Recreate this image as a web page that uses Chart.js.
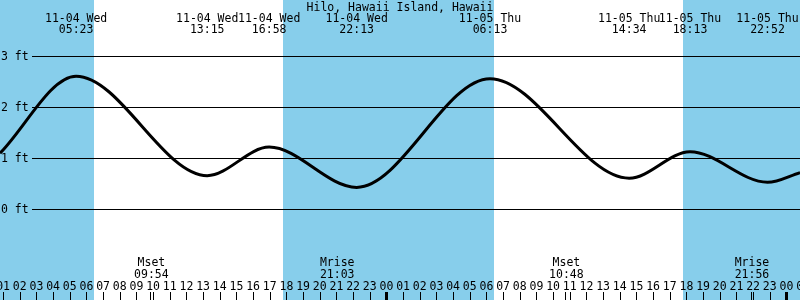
<!DOCTYPE html>
<html>
<head>
<meta charset="utf-8">
<script src="https://cdn.jsdelivr.net/npm/chart.js@4/dist/chart.umd.min.js"></script>
<style>
  html, body { margin: 0; padding: 0; background: #fff; overflow: hidden; }
  canvas { display: block; }
</style>
</head>
<body>
<canvas id="c" width="800" height="300"></canvas>
<script>
// ---- Data ----
const title = 'Hilo, Hawaii Island, Hawaii';
const dayNames = { '11-04': 'Wed', '11-05': 'Thu' };
const dayOffsets = { '11-04': 0, '11-05': 24, '11-06': 48 };

// Tide extremes (high / low)
const tideDays    = ['11-04', '11-04', '11-04', '11-04', '11-05', '11-05', '11-05', '11-05'];
const tideTimes   = ['05:23', '13:15', '16:58', '22:13', '06:13', '14:34', '18:13', '22:52'];
const tideHeights = [2.61, 0.66, 1.22, 0.43, 2.56, 0.61, 1.13, 0.53];

// Curve values at the chart edges
const edgeDays    = ['11-04', '11-06'];
const edgeTimes   = ['00:49', '00:49'];
const edgeHeights = [1.10, 0.72];

// Sun: daylight intervals (white); night is blue
const sunriseDays  = ['11-04', '11-05'];
const sunriseTimes = ['06:28', '06:28'];
const sunsetDays   = ['11-04', '11-05'];
const sunsetTimes  = ['17:48', '17:48'];

// Moon events
const moonLabels = ['Mset', 'Mrise', 'Mset', 'Mrise'];
const moonDays   = ['11-04', '11-04', '11-05', '11-05'];
const moonTimes  = ['09:54', '21:03', '10:48', '21:56'];

// Height grid (ft)
const gridFeet = [3, 2, 1, 0];

// Visible range
const rangeStart = ['11-04', '00:49'];
const rangeEnd   = ['11-06', '00:49'];

// ---- helpers ----
function toHours(day, time) {
  const [h, m] = time.split(':').map(Number);
  return dayOffsets[day] + h + m / 60;
}

const xMin = toHours(rangeStart[0], rangeStart[1]);
const xMax = toHours(rangeEnd[0], rangeEnd[1]);

const points = [];
points.push({ x: toHours(edgeDays[0], edgeTimes[0]), y: edgeHeights[0] });
tideTimes.forEach((t, i) => points.push({ x: toHours(tideDays[i], t), y: tideHeights[i] }));
points.push({ x: toHours(edgeDays[1], edgeTimes[1]), y: edgeHeights[1] });

const FONT = '11.5px "DejaVu Sans Mono", "Liberation Mono", monospace';
const SKY = '#87CEEB';

const tidePlugin = {
  id: 'tideDecor',
  beforeDraw(chart) {
    const { ctx, scales: { x, y } } = chart;
    const W = chart.width, H = chart.height;
    ctx.save();
    ctx.fillStyle = '#fff';
    ctx.fillRect(0, 0, W, H);
    // night bands
    const rises = sunriseTimes.map((t, i) => toHours(sunriseDays[i], t));
    const sets = sunsetTimes.map((t, i) => toHours(sunsetDays[i], t));
    const nights = [[xMin, rises[0]], [sets[0], rises[1]], [sets[1], xMax]];
    ctx.fillStyle = SKY;
    nights.forEach(([a, b]) => {
      const pa = Math.round(x.getPixelForValue(a));
      const pb = Math.round(x.getPixelForValue(b));
      ctx.fillRect(pa, 0, pb - pa, H);
    });
    // height grid lines + labels
    ctx.font = FONT;
    ctx.fillStyle = '#000';
    ctx.strokeStyle = '#000';
    ctx.lineWidth = 1;
    ctx.textAlign = 'left';
    ctx.textBaseline = 'middle';
    gridFeet.forEach(f => {
      const py = Math.round(y.getPixelForValue(f)) + 0.5;
      ctx.beginPath();
      ctx.moveTo(32, py);
      ctx.lineTo(W, py);
      ctx.stroke();
      ctx.fillText(f + ' ft', 1, py + 1);
    });
    ctx.restore();
  },
  afterDraw(chart) {
    const { ctx, scales: { x } } = chart;
    const W = chart.width, H = chart.height;
    ctx.save();
    ctx.font = FONT;
    ctx.fillStyle = '#000';
    ctx.textAlign = 'center';
    ctx.textBaseline = 'alphabetic';
    // title
    ctx.fillText(title, W / 2, 10.5);
    // tide event labels
    tideTimes.forEach((t, i) => {
      const px = x.getPixelForValue(toHours(tideDays[i], t));
      ctx.fillText(tideDays[i] + ' ' + dayNames[tideDays[i]], px, 21.5);
      ctx.fillText(t, px, 33);
    });
    // moon labels
    moonTimes.forEach((t, i) => {
      const px = x.getPixelForValue(toHours(moonDays[i], t));
      ctx.fillText(moonLabels[i], px, 266);
      ctx.fillText(t, px, 277.5);
    });
    // hour labels and ticks
    for (let h = Math.floor(xMin); h <= Math.ceil(xMax) + 1; h++) {
      const px = x.getPixelForValue(h);
      const lab = String(h % 24).padStart(2, '0');
      ctx.fillText(lab, px, 289.5);
      if (h % 24 === 0) {
        ctx.fillRect(Math.round(px) - 1, 292, 3, 8);
      } else {
        ctx.fillRect(Math.round(px), 292, 1, 8);
      }
    }
    // moon ticks
    moonTimes.forEach((t, i) => {
      const px = x.getPixelForValue(toHours(moonDays[i], t));
      ctx.fillRect(Math.round(px) - 1, 292, 1, 8);
    });
    ctx.restore();
  }
};

new Chart(document.getElementById('c'), {
  type: 'line',
  data: {
    datasets: [{
      data: points,
      borderColor: '#000',
      borderWidth: 3,
      pointRadius: 0,
      fill: false,
      cubicInterpolationMode: 'monotone'
    }]
  },
  options: {
    responsive: false,
    animation: false,
    events: [],
    layout: { padding: 0 },
    plugins: { legend: { display: false }, tooltip: { enabled: false }, title: { display: false } },
    scales: {
      x: { type: 'linear', min: xMin, max: xMax, display: false },
      y: { type: 'linear', min: -1.778, max: 4.104, display: false }
    }
  },
  plugins: [tidePlugin]
});
</script>
</body>
</html>
